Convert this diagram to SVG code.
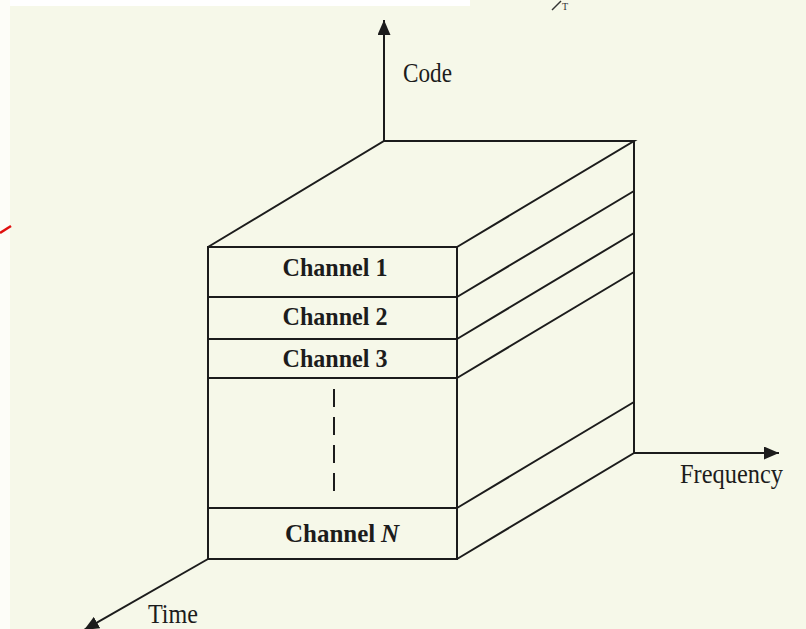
<svg xmlns="http://www.w3.org/2000/svg" width="806" height="629" viewBox="0 0 806 629">
<defs>
<style>
.ln{fill:none;stroke:#1c1c1c;stroke-width:2;stroke-linejoin:miter}
.ax{fill:none;stroke:#1c1c1c;stroke-width:2}
.lbl{font-family:"Liberation Serif","Times New Roman",serif;font-size:27px;fill:#1c1c1c}
.ch{font-family:"Liberation Serif","Times New Roman",serif;font-size:25px;font-weight:bold;fill:#1c1c1c;text-anchor:middle}
</style>
<marker id="arr" markerUnits="userSpaceOnUse" markerWidth="15" markerHeight="13" refX="15" refY="6.5" orient="auto">
<path d="M0,0 L15,6.5 L0,13 z" fill="#1c1c1c"/>
</marker>
</defs>
<rect width="806" height="629" fill="#f6f8e9"/>
<rect x="0" y="0" width="470" height="6" fill="#ffffff"/>
<rect x="0" y="0" width="10" height="629" fill="#fdfdf8"/>
<path d="M0,233 L11,226" stroke="#e01010" stroke-width="2.5" fill="none"/>
<g id="page-fragment">
<path d="M552,10 L561,1" stroke="#333" stroke-width="1.5"/>
<text x="562" y="10" font-family="Liberation Serif, serif" font-size="10" fill="#333">T</text>
</g>
<g id="connectors">
<line class="ax" x1="384" y1="141" x2="384" y2="20" marker-end="url(#arr)"/>
<line class="ax" x1="634" y1="453" x2="779" y2="453" marker-end="url(#arr)"/>
<line class="ax" x1="208" y1="559" x2="84" y2="630" marker-end="url(#arr)"/>
</g>
<g id="box">
<path class="ln" d="M208,247 L384,141 L634,141 L457,247"/>
<path class="ln" d="M634,141 L634,453 L457,559"/>
<path class="ln" d="M457,297 L634,191 M457,339 L634,233 M457,378 L634,272 M457,508 L634,402"/>
<rect class="ln" x="208" y="247" width="249" height="312"/>
</g>
<g id="channel-1">
<line class="ln" x1="208" y1="297" x2="457" y2="297"/>
<text class="ch" x="335" y="276" textLength="105" lengthAdjust="spacingAndGlyphs">Channel 1</text>
</g>
<g id="channel-2">
<line class="ln" x1="208" y1="339" x2="457" y2="339"/>
<text class="ch" x="335" y="325" textLength="105" lengthAdjust="spacingAndGlyphs">Channel 2</text>
</g>
<g id="channel-3">
<line class="ln" x1="208" y1="378" x2="457" y2="378"/>
<text class="ch" x="335" y="367" textLength="105" lengthAdjust="spacingAndGlyphs">Channel 3</text>
</g>
<g id="ellipsis">
<line x1="334" y1="389" x2="334" y2="495" stroke="#1c1c1c" stroke-width="2" stroke-dasharray="18,10"/>
</g>
<g id="channel-n">
<line class="ln" x1="208" y1="508" x2="457" y2="508"/>
<text class="ch" x="285" y="542" style="text-anchor:start">Channel</text>
<text class="ch" x="381" y="542" style="text-anchor:start;font-style:italic">N</text>
</g>
<g id="axis-labels">
<text class="lbl" x="403" y="82" textLength="49" lengthAdjust="spacingAndGlyphs">Code</text>
<text class="lbl" x="680" y="483" textLength="103" lengthAdjust="spacingAndGlyphs">Frequency</text>
<text class="lbl" x="148" y="623" textLength="50" lengthAdjust="spacingAndGlyphs">Time</text>
</g>
</svg>
